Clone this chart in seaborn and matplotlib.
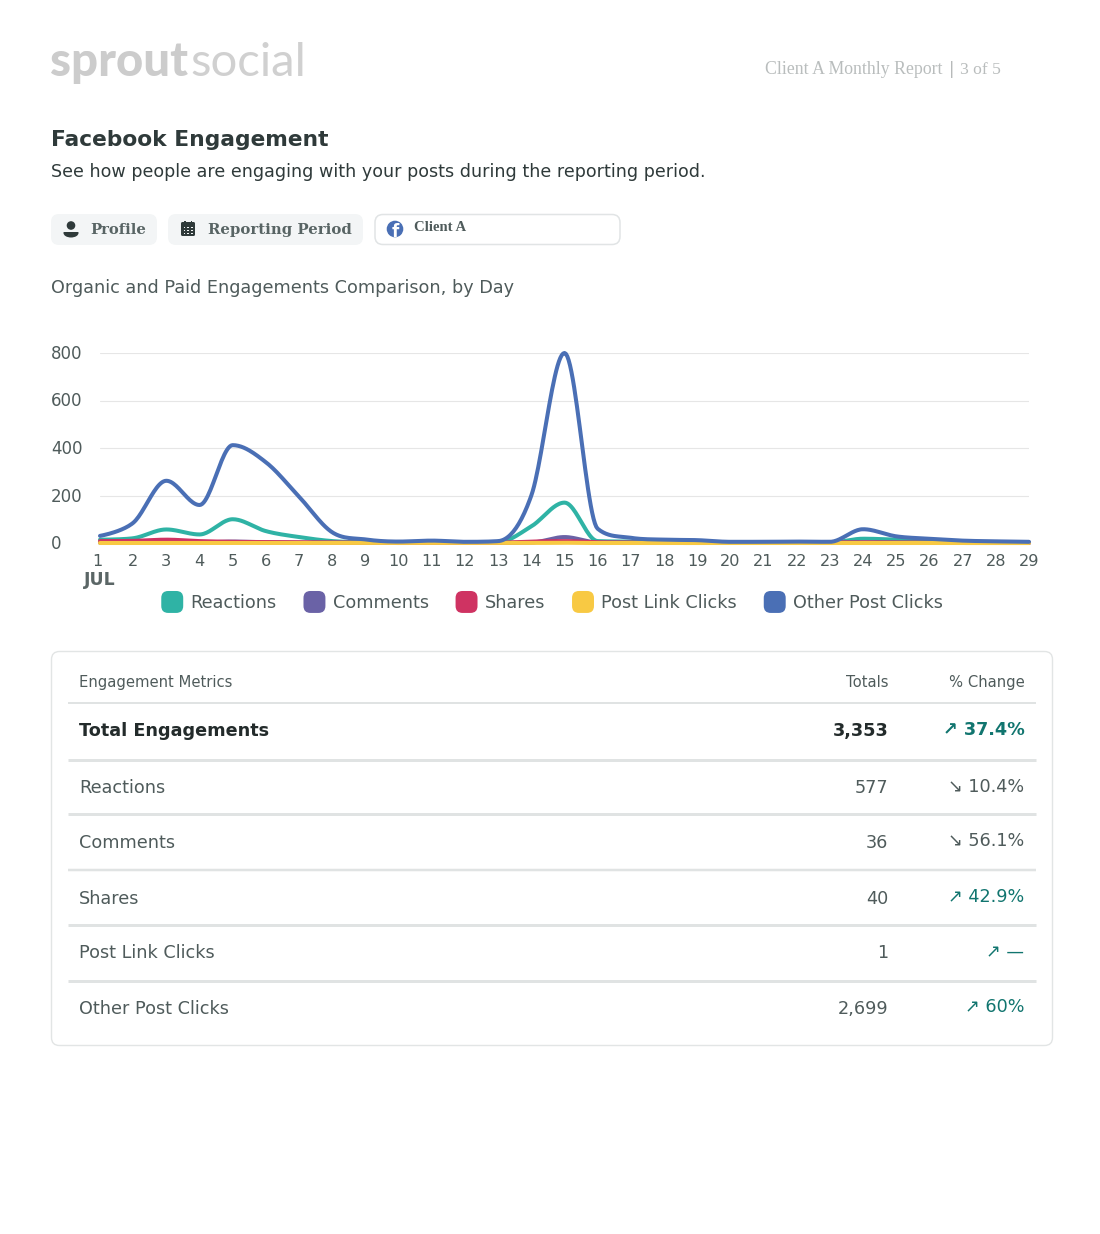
import numpy as np
import pandas as pd
import matplotlib
matplotlib.use("Agg")
import matplotlib.pyplot as plt
import seaborn as sns
from matplotlib.patches import FancyBboxPatch, Circle, Ellipse, Rectangle
from matplotlib.legend_handler import HandlerPatch
from matplotlib.transforms import ScaledTranslation

days = list(range(1, 30))
reactions = [14, 20, 57, 36, 100, 50, 25, 8, 3, 2, 2, 2, 3, 70, 170, 8, 6, 5, 4, 2, 2, 2, 2, 18, 14, 8, 3, 2, 2]
comments = [1, 1, 2, 2, 6, 3, 2, 1, 0, 0, 0, 0, 1, 2, 25, 2, 1, 0, 0, 0, 0, 0, 0, 2, 1, 1, 0, 0, 0]
shares = [8, 9, 14, 8, 5, 4, 3, 2, 1, 0, 1, 0, 1, 6, 8, 3, 2, 1, 1, 3, 3, 3, 3, 3, 2, 2, 1, 1, 1]
post_link = [0, 0, 0, 0, 0, 0, 0, 0, 0, 0, 0, 0, 0, 0, 1, 0, 0, 0, 0, 0, 0, 0, 0, 0, 0, 0, 0, 0, 0]
other = [30, 85, 262, 160, 412, 340, 195, 45, 15, 6, 10, 5, 8, 200, 800, 60, 22, 14, 12, 5, 5, 6, 5, 58, 28, 18, 10, 7, 5]

series_names = ["Reactions", "Comments", "Shares", "Post Link Clicks", "Other Post Clicks"]
series_values = [reactions, comments, shares, post_link, other]
series_colors = ["#2FB3A5", "#6A62A6", "#CF3362", "#F8C943", "#4A6FB5"]

yticks = [0, 200, 400, 600, 800]

metric_names = ["Total Engagements", "Reactions", "Comments", "Shares", "Post Link Clicks", "Other Post Clicks"]
metric_totals = ["3,353", "577", "36", "40", "1", "2,699"]
metric_changes = ["↗ 37.4%", "↘ 10.4%", "↘ 56.1%", "↗ 42.9%", "↗ —", "↗ 60%"]

INK = "#4F5B5B"
DARK = "#2F3A3A"
TEAL = "#11756F"


def spline(xs, ys, smoothing=2.0, per=24):
    """Draw the daily values with a smooth curve, as the chart library does."""
    xs, ys = np.asarray(xs, float), np.asarray(ys, float)
    n = len(xs)
    lc, rc = ys.copy(), ys.copy()
    d = smoothing + 1
    for i in range(1, n - 1):
        lx = (smoothing * xs[i] + xs[i - 1]) / d
        rx = (smoothing * xs[i] + xs[i + 1]) / d
        ly = (smoothing * ys[i] + ys[i - 1]) / d
        ry = (smoothing * ys[i] + ys[i + 1]) / d
        c = (ry - ly) * (rx - xs[i]) / (rx - lx) + ys[i] - ry
        ly += c
        ry += c
        if ly > max(ys[i - 1], ys[i]):
            ly = max(ys[i - 1], ys[i]); ry = 2 * ys[i] - ly
        elif ly < min(ys[i - 1], ys[i]):
            ly = min(ys[i - 1], ys[i]); ry = 2 * ys[i] - ly
        if ry > max(ys[i + 1], ys[i]):
            ry = max(ys[i + 1], ys[i]); ly = 2 * ys[i] - ry
        elif ry < min(ys[i + 1], ys[i]):
            ry = min(ys[i + 1], ys[i]); ly = 2 * ys[i] - ry
        lc[i], rc[i] = ly, ry
    X, Y = [], []
    for i in range(n - 1):
        t = np.linspace(0, 1, per, endpoint=False)
        x0, x3 = xs[i], xs[i + 1]
        x1 = x0 if i == 0 else (smoothing * x0 + x3) / d
        x2 = x3 if i == n - 2 else (smoothing * x3 + x0) / d
        X.append((1-t)**3*x0 + 3*(1-t)**2*t*x1 + 3*(1-t)*t**2*x2 + t**3*x3)
        Y.append((1-t)**3*ys[i] + 3*(1-t)**2*t*rc[i] + 3*(1-t)*t**2*lc[i+1] + t**3*ys[i+1])
    return np.r_[np.concatenate(X), xs[-1]], np.r_[np.concatenate(Y), ys[-1]]


class RoundSwatch(HandlerPatch):
    def create_artists(self, legend, orig, xd, yd, w, h, fontsize, trans):
        p = FancyBboxPatch((-xd, -yd + h / 2 - 7.9), 15.8, 15.8,
                           boxstyle="round,pad=0,rounding_size=5",
                           fc=orig.get_facecolor(), ec="none", transform=trans)
        return [p]


sns.set_theme(style="white")
plt.rcParams["font.family"] = ["DejaVu Sans"]
W, H = 1100, 1234
fig = plt.figure(figsize=(W / 100, H / 100), dpi=100, facecolor="white")

# page layer in pixel coordinates
pg = fig.add_axes([0, 0, 1, 1])
pg.set_xlim(0, W); pg.set_ylim(H, 0); pg.axis("off")

# chart layer
L, R, T, B = 100, 1029, 353, 543
ax = fig.add_axes([L / W, 1 - B / H, (R - L) / W, (B - T) / H])
ax.patch.set_alpha(0)
for name, vals, col in zip(series_names, series_values, series_colors):
    sx, sy = spline(days, vals)
    sns.lineplot(x=sx, y=sy, ax=ax, color=col, lw=2.9, legend=False, sort=False,
                 estimator=None, errorbar=None, clip_on=False, zorder=3, solid_capstyle="round")
ax.set_xlim(1, 29); ax.set_ylim(0, 800)
ax.set_xlabel(""); ax.set_ylabel("")
for s in ax.spines.values():
    s.set_visible(False)
ax.set_yticks(yticks)
ax.set_xticks(days)
ax.set_xticklabels([str(d) for d in days])
ax.yaxis.grid(True, color="#E6E6E6", lw=0.8); ax.xaxis.grid(False)
ax.set_axisbelow(True)
ax.tick_params(axis="x", length=0, pad=8, labelsize=11.6, labelcolor=INK)
ax.tick_params(axis="y", length=0, pad=0, labelsize=12, labelcolor=INK)
for lab in ax.get_yticklabels():
    lab.set_ha("left")
    lab.set_transform(lab.get_transform() + ScaledTranslation(-49 / 100, 1 / 100, fig.dpi_scale_trans))
first = ax.get_xticklabels()[0]
first.set_transform(first.get_transform() + ScaledTranslation(-3 / 100, 0, fig.dpi_scale_trans))

handles = [Rectangle((0, 0), 1, 1, fc=c, label=n) for n, c in zip(series_names, series_colors)]
leg = ax.legend(handles=handles, ncol=5, frameon=False, loc="center",
                bbox_to_anchor=(552 / W, 1 - 603 / H), bbox_transform=fig.transFigure,
                fontsize=12.7, labelcolor=INK,
                handler_map={Rectangle: RoundSwatch()}, handlelength=1.25, handleheight=1.0,
                handletextpad=0.4, columnspacing=1.53, borderpad=0, borderaxespad=0)

# header
pg.text(50, 76, "sprout", fontsize=34, family="Lato", weight="black", color="#CCCCCC", va="baseline")
pg.text(190, 76, "social", fontsize=34, family="Lato", weight="normal", color="#D0D0D0", va="baseline")
pg.text(765, 74, "Client A Monthly Report", fontsize=12.8, family="Liberation Serif", color="#B9BDBD", va="baseline")
pg.text(949.5, 74, "|", fontsize=12.8, family="Liberation Serif", color="#8C9292", va="baseline")
pg.text(960, 74, "3 of 5", fontsize=12.6, family="Liberation Serif", color="#B9BDBD", va="baseline")

pg.text(51, 146.5, "Facebook Engagement", fontsize=15.7, weight="bold", color=DARK, va="baseline")
pg.text(51, 177, "See how people are engaging with your posts during the reporting period.",
        fontsize=12.65, color=DARK, va="baseline")

# filter pills
for x0, x1 in [(51, 157), (168, 363)]:
    pg.add_patch(FancyBboxPatch((x0, 214), x1 - x0, 31, boxstyle="round,pad=0,rounding_size=8",
                                fc="#F3F5F6", ec="none"))
pg.add_patch(FancyBboxPatch((375, 214.5), 245, 30, boxstyle="round,pad=0,rounding_size=8",
                            fc="white", ec="#E1E4E5", lw=1.1))
pg.add_patch(Ellipse((71, 233), 15, 9, fc=DARK, ec="none"))
pg.add_patch(Rectangle((62, 226), 18, 5.5, fc="#F3F5F6", ec="none", zorder=1.5))
pg.add_patch(Circle((71, 225.5), 4.3, fc=DARK, ec="none", zorder=2))
pg.add_patch(FancyBboxPatch((181, 222), 14, 14, boxstyle="round,pad=0,rounding_size=1.5", fc=DARK, ec="none"))
pg.add_patch(Rectangle((184, 220.5), 1.8, 3, fc=DARK, ec="none"))
pg.add_patch(Rectangle((190.5, 220.5), 1.8, 3, fc=DARK, ec="none"))
for cx in (183.5, 187.2, 190.9):
    for cy in (226.5, 229.5, 232.5):
        pg.add_patch(Rectangle((cx, cy), 1.8, 1.6, fc="#F3F5F6", ec="none", zorder=2))
pg.text(90, 234, "Profile", fontsize=10.65, family="DejaVu Serif", weight="bold", color="#586464", va="baseline")
pg.text(208, 234, "Reporting Period", fontsize=10.7, family="DejaVu Serif", weight="bold", color="#586464", va="baseline")
pg.add_patch(Circle((395, 229), 8.3, fc="#4A6FB5", ec="none"))
pg.text(395.5, 237, "f", fontsize=12, weight="bold", color="white", ha="center", va="baseline")
pg.text(414, 231, "Client A", fontsize=10.6, family="Liberation Serif", weight="bold", color="#4F5B5B", va="baseline")

pg.text(51, 293, "Organic and Paid Engagements Comparison, by Day", fontsize=12.7, color=INK, va="baseline")
pg.text(84, 585, "JUL", fontsize=12.4, weight="bold", color="#5B6666", va="baseline")

# table
pg.add_patch(FancyBboxPatch((51.5, 651.5), 1001, 394, boxstyle="round,pad=0,rounding_size=8",
                            fc="white", ec="#E2E5E5", lw=1))
pg.text(79, 687, "Engagement Metrics", fontsize=10.6, color=INK, va="baseline")
pg.text(888.5, 687, "Totals", fontsize=10.6, color=INK, ha="right", va="baseline")
pg.text(1024.5, 687, "% Change", fontsize=10.6, color=INK, ha="right", va="baseline")
line_y = [703, 759.5, 814, 870, 924.5, 980.5]
line_w = [2, 3, 3, 2.5, 3, 3]
base_y = [736, 793, 848, 904, 958, 1014]
chg_y = [735, 792, 846, 902, 957, 1012]
for i, (name, tot, chg) in enumerate(zip(metric_names, metric_totals, metric_changes)):
    pg.plot([68, 1036], [line_y[i]] * 2, color="#E0E3E3", lw=line_w[i] * 0.72, solid_capstyle="butt")
    bold = i == 0
    col = "#232B2B" if bold else INK
    w = "bold" if bold else "normal"
    fs = 12.7
    pg.text(79, base_y[i], name, fontsize=fs, weight=w, color=col, va="baseline")
    pg.text(888.5, base_y[i], tot, fontsize=fs, weight=w, color=col, ha="right", va="baseline")
    pg.text(1024.5, chg_y[i], chg, fontsize=fs, weight=w,
            color=TEAL if chg[0] == "↗" else INK, ha="right", va="baseline")
pg.set_xlim(0, W); pg.set_ylim(H, 0)

fig.savefig("out.png", dpi=100, facecolor="white")
